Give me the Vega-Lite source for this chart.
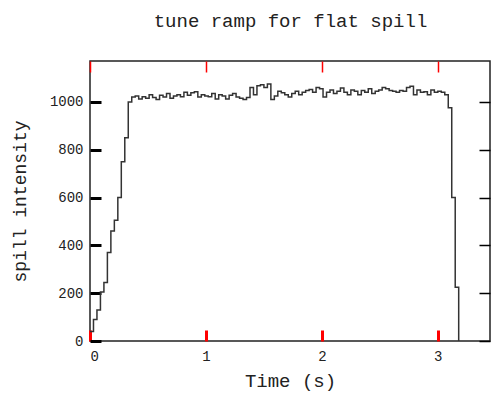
{
  "$schema": "https://vega.github.io/schema/vega-lite/v6.json",
  "width": 400,
  "height": 280,
  "autosize": {"type": "none"},
  "padding": {"left": 90, "top": 61, "right": 3, "bottom": 55},
  "data": {"values": [
    {"t": 0.00, "v": 40}, {"t": 0.03, "v": 90}, {"t": 0.06, "v": 130}, {"t": 0.09, "v": 205},
    {"t": 0.12, "v": 245}, {"t": 0.15, "v": 370}, {"t": 0.18, "v": 460}, {"t": 0.21, "v": 505},
    {"t": 0.24, "v": 600}, {"t": 0.27, "v": 750}, {"t": 0.30, "v": 850}, {"t": 0.33, "v": 1000},
    {"t": 0.36, "v": 1020}, {"t": 0.39, "v": 1025}, {"t": 0.42, "v": 1012}, {"t": 0.45, "v": 1022},
    {"t": 0.48, "v": 1015}, {"t": 0.51, "v": 1030}, {"t": 0.54, "v": 1018}, {"t": 0.57, "v": 1010},
    {"t": 0.60, "v": 1028}, {"t": 0.63, "v": 1020}, {"t": 0.66, "v": 1035}, {"t": 0.69, "v": 1015},
    {"t": 0.72, "v": 1025}, {"t": 0.75, "v": 1030}, {"t": 0.78, "v": 1022}, {"t": 0.81, "v": 1040},
    {"t": 0.84, "v": 1028}, {"t": 0.87, "v": 1038}, {"t": 0.90, "v": 1042}, {"t": 0.93, "v": 1020},
    {"t": 0.96, "v": 1030}, {"t": 0.99, "v": 1025}, {"t": 1.02, "v": 1022}, {"t": 1.05, "v": 1035},
    {"t": 1.08, "v": 1012}, {"t": 1.11, "v": 1030}, {"t": 1.14, "v": 1025}, {"t": 1.17, "v": 1012},
    {"t": 1.20, "v": 1028}, {"t": 1.23, "v": 1035}, {"t": 1.26, "v": 1020}, {"t": 1.29, "v": 1015},
    {"t": 1.32, "v": 1010}, {"t": 1.35, "v": 1018}, {"t": 1.38, "v": 1060}, {"t": 1.41, "v": 1030},
    {"t": 1.44, "v": 1068}, {"t": 1.47, "v": 1072}, {"t": 1.50, "v": 1060}, {"t": 1.53, "v": 1075},
    {"t": 1.56, "v": 1010}, {"t": 1.59, "v": 1025}, {"t": 1.62, "v": 1045}, {"t": 1.65, "v": 1038},
    {"t": 1.68, "v": 1030}, {"t": 1.71, "v": 1020}, {"t": 1.74, "v": 1035}, {"t": 1.77, "v": 1045},
    {"t": 1.80, "v": 1030}, {"t": 1.83, "v": 1040}, {"t": 1.86, "v": 1048}, {"t": 1.89, "v": 1052},
    {"t": 1.92, "v": 1040}, {"t": 1.95, "v": 1060}, {"t": 1.98, "v": 1055}, {"t": 2.01, "v": 1020},
    {"t": 2.04, "v": 1040}, {"t": 2.07, "v": 1050}, {"t": 2.10, "v": 1035}, {"t": 2.13, "v": 1045},
    {"t": 2.16, "v": 1058}, {"t": 2.19, "v": 1040}, {"t": 2.22, "v": 1030}, {"t": 2.25, "v": 1050},
    {"t": 2.28, "v": 1045}, {"t": 2.31, "v": 1030}, {"t": 2.34, "v": 1048}, {"t": 2.37, "v": 1040},
    {"t": 2.40, "v": 1055}, {"t": 2.43, "v": 1035}, {"t": 2.46, "v": 1045}, {"t": 2.49, "v": 1050},
    {"t": 2.52, "v": 1060}, {"t": 2.55, "v": 1055}, {"t": 2.58, "v": 1048}, {"t": 2.61, "v": 1045},
    {"t": 2.64, "v": 1040}, {"t": 2.67, "v": 1048}, {"t": 2.70, "v": 1045}, {"t": 2.73, "v": 1060},
    {"t": 2.76, "v": 1065}, {"t": 2.79, "v": 1030}, {"t": 2.82, "v": 1050}, {"t": 2.85, "v": 1040},
    {"t": 2.88, "v": 1042}, {"t": 2.91, "v": 1030}, {"t": 2.94, "v": 1050}, {"t": 2.97, "v": 1040},
    {"t": 3.00, "v": 1045}, {"t": 3.03, "v": 1040}, {"t": 3.06, "v": 1030}, {"t": 3.09, "v": 975},
    {"t": 3.12, "v": 600}, {"t": 3.15, "v": 225}, {"t": 3.18, "v": 0}
  ]},
  "layer": [
    {
      "mark": {"type": "line", "interpolate": "step-after", "color": "#333", "strokeWidth": 1.5},
      "encoding": {
        "x": {"field": "t", "type": "quantitative", "scale": {"domain": [0, 3.45], "nice": false, "zero": false},
              "axis": {"orient": "bottom", "values": [0, 1, 2, 3], "format": "d", "tickColor": "red", "tickWidth": 3, "tickSize": -11,
                       "labelPadding": 19, "labelFont": "Liberation Mono", "labelFontSize": 14, "labelColor": "#222",
                       "title": "Time (s)", "titlePadding": 8, "titleFont": "Liberation Mono", "titleFontSize": 19, "titleFontWeight": "normal", "titleColor": "#222"}},
        "y": {"field": "v", "type": "quantitative", "scale": {"domain": [0, 1171], "nice": false},
              "axis": {"orient": "left", "values": [0, 200, 400, 600, 800, 1000], "format": "d", "tickColor": "black", "tickWidth": 3, "tickSize": -11,
                       "labelPadding": 18, "labelFont": "Liberation Mono", "labelFontSize": 14, "labelColor": "#222",
                       "title": "spill intensity", "titlePadding": 20, "titleFont": "Liberation Mono", "titleFontSize": 18, "titleFontWeight": "normal", "titleColor": "#222"}}
      }
    },
    {
      "mark": {"type": "line", "interpolate": "step-after", "strokeOpacity": 0},
      "encoding": {
        "x": {"field": "t", "type": "quantitative",
              "axis": {"orient": "top", "values": [0, 1, 2, 3], "tickColor": "red", "tickWidth": 1.5, "tickSize": -11, "labels": false,
                       "title": "tune ramp for flat spill", "titlePadding": 30, "titleFont": "Liberation Mono", "titleFontSize": 19, "titleFontWeight": "normal", "titleColor": "#222"}},
        "y": {"field": "v", "type": "quantitative",
              "axis": {"orient": "right", "values": [0, 200, 400, 600, 800, 1000], "tickColor": "black", "tickWidth": 1.5, "tickSize": -11, "labels": false, "title": null}}
      }
    }
  ],
  "resolve": {"axis": {"x": "independent", "y": "independent"}},
  "config": {
    "view": {"stroke": "#222", "strokeWidth": 1.5},
    "axis": {"domain": false, "grid": false}
  }
}
